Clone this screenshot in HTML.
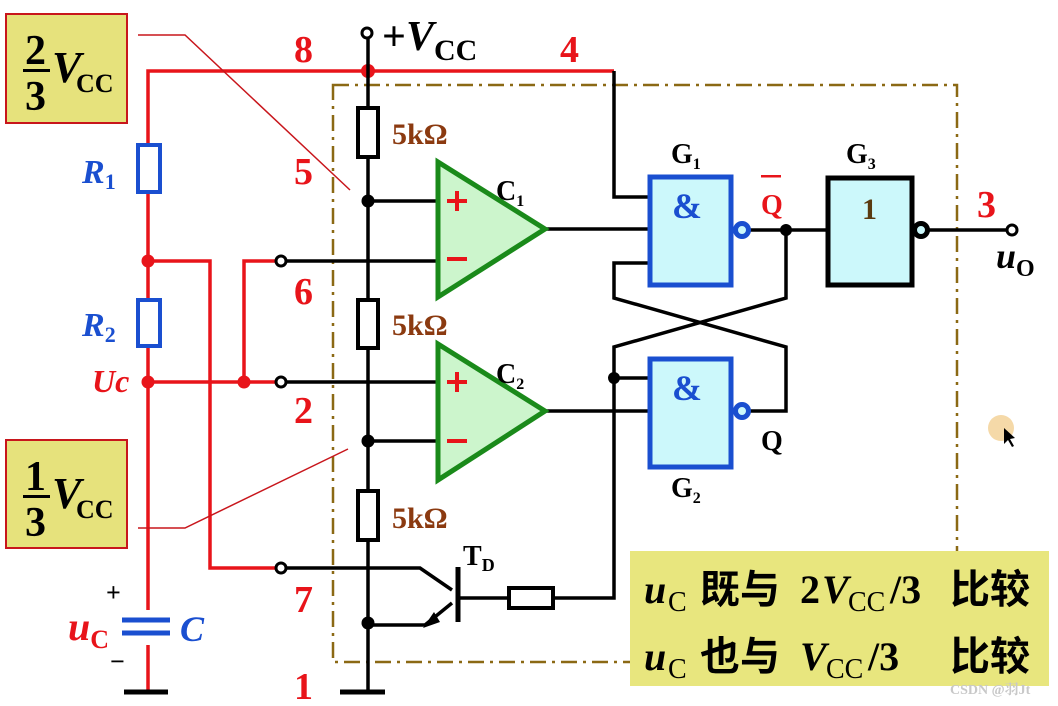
<!DOCTYPE html>
<html><head><meta charset="utf-8"><style>
html,body{margin:0;padding:0;background:#fff;}
svg{display:block;}
text{font-family:"Liberation Serif","Noto Serif CJK SC",serif;font-weight:bold;}
</style></head><body>
<svg width="1058" height="706" viewBox="0 0 1058 706" xmlns="http://www.w3.org/2000/svg">
<rect x="333" y="85" width="624" height="577" fill="none" stroke="#8B6914" stroke-width="2.5" stroke-dasharray="16,6,3,6"/>

<g stroke="#e8141a" stroke-width="3.5" fill="none">
<polyline points="148,692 148,71 614,71"/>
<polyline points="148,261 210,261 210,568 278,568"/>
<polyline points="148,382 278,382"/>
<polyline points="244,382 244,261 278,261"/>
</g>
<g fill="#e8141a">
<circle cx="368" cy="71" r="7"/><circle cx="148" cy="261" r="6.5"/><circle cx="148" cy="382" r="6.5"/><circle cx="244" cy="382" r="6.5"/>
</g>
<g stroke="#1a4fd0" stroke-width="4" fill="#fff">
<rect x="138" y="145" width="22" height="47"/>
<rect x="138" y="300" width="22" height="46"/>
</g>
<rect x="140" y="610" width="16" height="35" fill="#fff"/>
<g stroke="#1a4fd0" stroke-width="5"><line x1="122" y1="620" x2="170" y2="620"/><line x1="122" y1="633" x2="170" y2="633"/></g>
<line x1="124" y1="692" x2="168" y2="692" stroke="#000" stroke-width="5"/>

<g stroke="#000" stroke-width="3.5" fill="none">
<line x1="368" y1="39" x2="368" y2="692"/>
<line x1="340" y1="692" x2="385" y2="692" stroke-width="5"/>
<line x1="368" y1="201" x2="438" y2="201"/>
<line x1="285" y1="261" x2="438" y2="261"/>
<line x1="285" y1="382" x2="438" y2="382"/>
<line x1="368" y1="441" x2="438" y2="441"/>
<polyline points="614,71 614,197 650,197"/>
<line x1="546" y1="229" x2="650" y2="229"/>
<line x1="546" y1="411" x2="650" y2="411"/>
<polyline points="650,263 614,263 614,298 786,347 786,411 750,411"/>
<polyline points="750,230 826,230"/>
<polyline points="786,230 786,298 614,347 614,598 553,598"/>
<line x1="614" y1="378" x2="650" y2="378"/>
<line x1="509" y1="598" x2="458" y2="598"/>
<line x1="928" y1="230" x2="1007" y2="230"/>
<polyline points="285,568 420,568 452,590"/>
<polyline points="452,603 425,625 368,625"/>
<line x1="458" y1="567" x2="458" y2="622" stroke-width="5"/>
</g>
<polygon points="423,628 434,612 440,622" fill="#000"/>
<g fill="#000"><circle cx="368" cy="201" r="6.5"/><circle cx="368" cy="441" r="6.5"/><circle cx="368" cy="623" r="6.5"/><circle cx="786" cy="230" r="6"/><circle cx="614" cy="378" r="6"/></g>
<g stroke="#000" stroke-width="4" fill="#fff">
<rect x="358" y="108" width="20" height="49"/>
<rect x="358" y="300" width="20" height="48"/>
<rect x="358" y="491" width="20" height="49"/>
<rect x="509" y="588" width="44" height="20"/>
</g>
<g stroke="#000" stroke-width="3" fill="#fff">
<circle cx="367" cy="33" r="5"/><circle cx="281" cy="261" r="5"/><circle cx="281" cy="382" r="5"/><circle cx="281" cy="568" r="5"/><circle cx="1012" cy="230" r="5"/>
</g>
<g stroke="#1a8a1a" stroke-width="5" fill="#ccf5cc">
<polygon points="438,162 438,297 545,229"/>
<polygon points="438,344 438,480 545,411"/>
</g>
<g fill="#e8141a"><rect x="447" y="199" width="20" height="4"/><rect x="455" y="191" width="4" height="20"/><rect x="447" y="257" width="20" height="4"/>
<rect x="447" y="380" width="20" height="4"/><rect x="455" y="372" width="4" height="20"/><rect x="447" y="439" width="20" height="4"/></g>
<g stroke="#1a4fd0" stroke-width="5" fill="#ccf8fb">
<rect x="650" y="177" width="81" height="108"/>
<rect x="650" y="359" width="81" height="108"/>
<circle cx="742" cy="230" r="6.5"/><circle cx="742" cy="411" r="6.5"/>
</g>
<rect x="828" y="178" width="84" height="107" stroke="#000" stroke-width="5" fill="#ccf8fb"/>
<circle cx="921" cy="230" r="6.5" stroke="#000" stroke-width="5" fill="#ccf8fb"/>

<rect x="6" y="14" width="121" height="109" fill="#e6e27c" stroke="#c8161c" stroke-width="2"/>
<rect x="6" y="440" width="121" height="108" fill="#e6e27c" stroke="#c8161c" stroke-width="2"/>
<g stroke="#c8161c" stroke-width="1.5" fill="none">
<polyline points="138,35 185,35 350,190"/>
<polyline points="138,528 185,528 348,449"/>
</g>
<g fill="#000">
<text x="25" y="64" font-size="42">2</text><rect x="23" y="69" width="27" height="3"/><text x="25" y="110" font-size="42">3</text>
<text x="52" y="82" font-size="44" font-style="italic">V</text><text x="76" y="92" font-size="26">CC</text>
<text x="25" y="490" font-size="42">1</text><rect x="23" y="495" width="27" height="3"/><text x="25" y="536" font-size="42">3</text>
<text x="52" y="508" font-size="44" font-style="italic">V</text><text x="76" y="518" font-size="26">CC</text>
</g>

<g fill="#000">
<text x="382" y="50" font-size="42" font-weight="normal">+<tspan font-style="italic" font-weight="bold">V</tspan><tspan font-size="30" dy="10">CC</tspan></text>
<text x="496" y="200" font-size="28">C<tspan font-size="16" dy="6">1</tspan></text>
<text x="496" y="383" font-size="28">C<tspan font-size="16" dy="6">2</tspan></text>
<text x="671" y="163" font-size="28">G<tspan font-size="16" dy="6">1</tspan></text>
<text x="846" y="163" font-size="28">G<tspan font-size="16" dy="6">3</tspan></text>
<text x="671" y="497" font-size="28">G<tspan font-size="16" dy="6">2</tspan></text>
<text x="761" y="450" font-size="28">Q</text>
<text x="463" y="565" font-size="28">T<tspan font-size="18" dy="6">D</tspan></text>
<text x="996" y="268" font-size="36" font-style="italic">u<tspan font-size="24" font-style="normal" dy="8">O</tspan></text>
<text x="106" y="601" font-size="26" font-weight="normal">+</text>
<text x="110" y="670" font-size="26" font-weight="normal">−</text>
</g>
<text x="761" y="214" font-size="28" fill="#e8141a">Q</text><rect x="761" y="175" width="20" height="2.5" fill="#e8141a"/>
<g fill="#1a4fd0">
<text x="672" y="218" font-size="36">&amp;</text>
<text x="672" y="400" font-size="36">&amp;</text>
<text x="82" y="183" font-size="34" font-style="italic">R<tspan font-size="22" font-style="normal" dy="6">1</tspan></text>
<text x="82" y="336" font-size="34" font-style="italic">R<tspan font-size="22" font-style="normal" dy="6">2</tspan></text>
<text x="180" y="641" font-size="36" font-style="italic">C</text>
</g>
<text x="862" y="219" font-size="30" fill="#5a3a10">1</text>
<g fill="#8B3a10" font-size="30">
<text x="392" y="144">5kΩ</text><text x="392" y="335">5kΩ</text><text x="392" y="528">5kΩ</text>
</g>
<g fill="#e8141a" font-size="38">
<text x="294" y="62">8</text><text x="560" y="62">4</text><text x="294" y="184">5</text><text x="294" y="304">6</text>
<text x="294" y="423">2</text><text x="294" y="612">7</text><text x="294" y="699">1</text><text x="977" y="217">3</text>
<text x="68" y="640" font-style="italic" font-size="40">u<tspan font-size="26" font-style="normal" dy="8">C</tspan></text>
</g>
<text x="92" y="392" font-size="32" fill="#e8141a" font-weight="normal" font-style="italic">Uc</text>

<rect x="630" y="551" width="419" height="135" fill="#e8e67e"/>
<g fill="#000">
<text y="603" font-size="40"><tspan x="644" font-style="italic">u</tspan><tspan x="668" font-size="28" font-weight="normal" dy="8">C</tspan><tspan x="700" dy="-8" font-family="Noto Sans CJK SC,sans-serif" font-size="40">既与</tspan><tspan x="800">2</tspan><tspan x="822" font-style="italic">V</tspan><tspan x="848" font-size="28" font-weight="normal" dy="8">CC</tspan><tspan x="890" dy="-8">/3</tspan><tspan x="950" font-family="Noto Sans CJK SC,sans-serif">比较</tspan></text>
<text y="670" font-size="40"><tspan x="644" font-style="italic">u</tspan><tspan x="668" font-size="28" font-weight="normal" dy="8">C</tspan><tspan x="700" dy="-8" font-family="Noto Sans CJK SC,sans-serif">也与</tspan><tspan x="800" font-style="italic">V</tspan><tspan x="826" font-size="28" font-weight="normal" dy="8">CC</tspan><tspan x="868" dy="-8">/3</tspan><tspan x="950" font-family="Noto Sans CJK SC,sans-serif">比较</tspan></text>
</g>
<text x="950" y="694" font-size="14" fill="#c8c8c8" font-weight="normal" font-family="Liberation Sans,Noto Sans CJK SC,sans-serif">CSDN @羽Jt</text>
<circle cx="1001" cy="428" r="13" fill="#f5d9a8"/>
<polygon points="1004,428 1004,444 1008,440 1012,447 1014,446 1010,439 1015,438" fill="#000"/>
</svg>
</body></html>
